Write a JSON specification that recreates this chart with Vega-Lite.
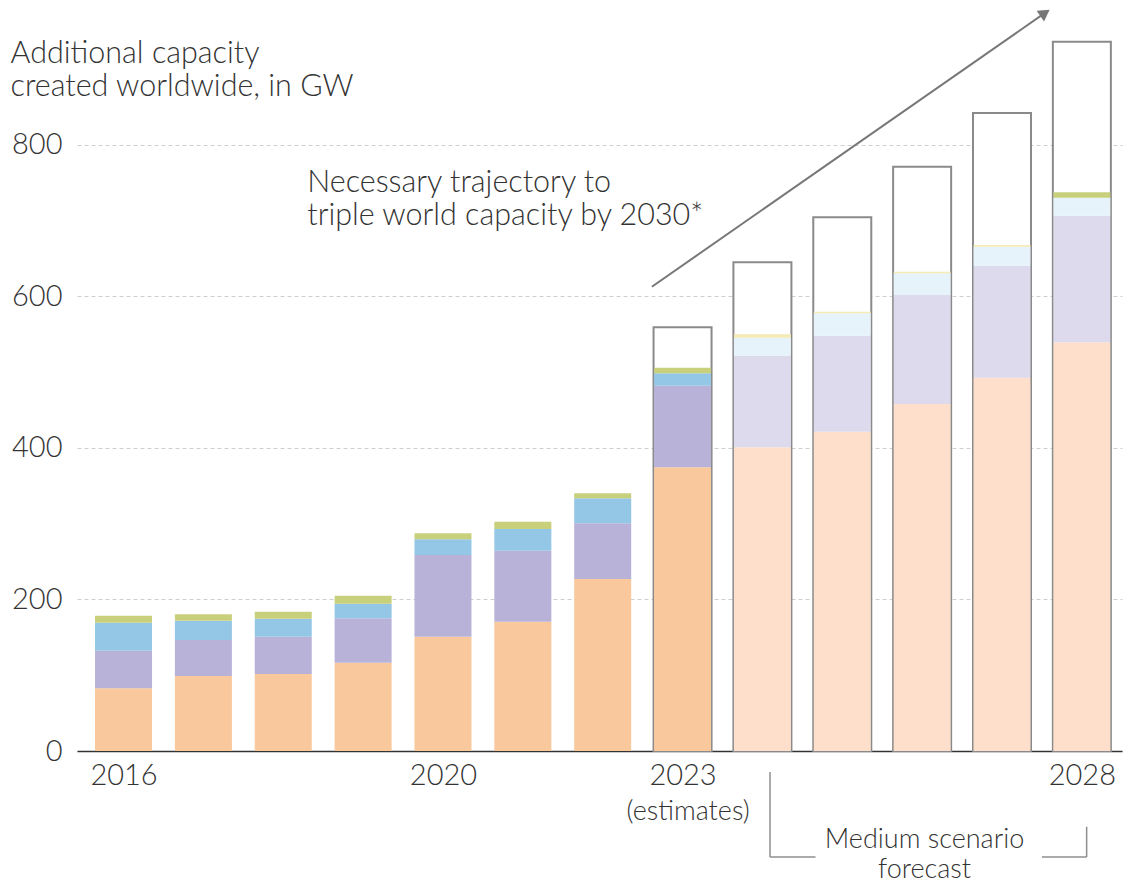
{
  "$schema": "https://vega.github.io/schema/vega-lite/v6.json",
  "width": 1045,
  "height": 742,
  "autosize": {"type": "none"},
  "padding": {"left": 77, "top": 9, "right": 2, "bottom": 133},
  "background": "white",
  "config": {
    "view": {"stroke": null},
    "font": "Lato",
    "axis": {"labelFont": "Lato", "labelFontWeight": 300, "labelFontSize": 29, "labelColor": "#333333", "titleFont": "Lato", "titleFontWeight": 300, "titleFontSize": 30.5, "titleColor": "#333333"}
  },
  "datasets": {
    "capacity": [
      {"year": 2016, "series": "Solar", "gw": 82.8},
      {"year": 2016, "series": "Wind", "gw": 49.6},
      {"year": 2016, "series": "Hydro", "gw": 37.0},
      {"year": 2016, "series": "Bioenergy", "gw": 9.2},
      {"year": 2017, "series": "Solar", "gw": 99.0},
      {"year": 2017, "series": "Wind", "gw": 47.5},
      {"year": 2017, "series": "Hydro", "gw": 25.5},
      {"year": 2017, "series": "Bioenergy", "gw": 8.5},
      {"year": 2018, "series": "Solar", "gw": 101.7},
      {"year": 2018, "series": "Wind", "gw": 49.2},
      {"year": 2018, "series": "Hydro", "gw": 23.8},
      {"year": 2018, "series": "Bioenergy", "gw": 9.2},
      {"year": 2019, "series": "Solar", "gw": 116.6},
      {"year": 2019, "series": "Wind", "gw": 58.6},
      {"year": 2019, "series": "Hydro", "gw": 19.3},
      {"year": 2019, "series": "Bioenergy", "gw": 10.5},
      {"year": 2020, "series": "Solar", "gw": 150.9},
      {"year": 2020, "series": "Wind", "gw": 107.8},
      {"year": 2020, "series": "Hydro", "gw": 20.7},
      {"year": 2020, "series": "Bioenergy", "gw": 7.9},
      {"year": 2021, "series": "Solar", "gw": 170.7},
      {"year": 2021, "series": "Wind", "gw": 93.7},
      {"year": 2021, "series": "Hydro", "gw": 28.7},
      {"year": 2021, "series": "Bioenergy", "gw": 9.6},
      {"year": 2022, "series": "Solar", "gw": 227.1},
      {"year": 2022, "series": "Wind", "gw": 73.5},
      {"year": 2022, "series": "Hydro", "gw": 33.0},
      {"year": 2022, "series": "Bioenergy", "gw": 6.6},
      {"year": 2023, "series": "Solar", "gw": 374.5},
      {"year": 2023, "series": "Wind", "gw": 107.8},
      {"year": 2023, "series": "Hydro", "gw": 16.3},
      {"year": 2023, "series": "Bioenergy", "gw": 7.4},
      {"year": 2024, "series": "Solar (forecast)", "gw": 400.9},
      {"year": 2024, "series": "Wind (forecast)", "gw": 121.0},
      {"year": 2024, "series": "Hydro (forecast)", "gw": 23.7},
      {"year": 2024, "series": "Bioenergy (forecast)", "gw": 4.4},
      {"year": 2025, "series": "Solar (forecast)", "gw": 421.5},
      {"year": 2025, "series": "Wind (forecast)", "gw": 126.8},
      {"year": 2025, "series": "Hydro (forecast)", "gw": 29.5},
      {"year": 2025, "series": "Bioenergy (forecast)", "gw": 2.0},
      {"year": 2026, "series": "Solar (forecast)", "gw": 458.0},
      {"year": 2026, "series": "Wind (forecast)", "gw": 144.0},
      {"year": 2026, "series": "Hydro (forecast)", "gw": 28.6},
      {"year": 2026, "series": "Bioenergy (forecast)", "gw": 2.2},
      {"year": 2027, "series": "Solar (forecast)", "gw": 492.8},
      {"year": 2027, "series": "Wind (forecast)", "gw": 147.9},
      {"year": 2027, "series": "Hydro (forecast)", "gw": 25.0},
      {"year": 2027, "series": "Bioenergy (forecast)", "gw": 2.3},
      {"year": 2028, "series": "Solar (forecast)", "gw": 539.5},
      {"year": 2028, "series": "Wind (forecast)", "gw": 167.2},
      {"year": 2028, "series": "Hydro (forecast)", "gw": 23.7},
      {"year": 2028, "series": "Bioenergy", "gw": 7.1}
    ],
    "seriesOrder": [
      {"series": "Solar", "rank": 1},
      {"series": "Solar (forecast)", "rank": 1},
      {"series": "Wind", "rank": 2},
      {"series": "Wind (forecast)", "rank": 2},
      {"series": "Hydro", "rank": 3},
      {"series": "Hydro (forecast)", "rank": 3},
      {"series": "Bioenergy", "rank": 4},
      {"series": "Bioenergy (forecast)", "rank": 4}
    ],
    "trajectory": [
      {"year": 2023, "gw": 559.3},
      {"year": 2024, "gw": 645.3},
      {"year": 2025, "gw": 704.5},
      {"year": 2026, "gw": 771.4},
      {"year": 2027, "gw": 842.2},
      {"year": 2028, "gw": 936.4}
    ],
    "arrow": [{"year": 2022.616, "gw": 612.9, "year2": 2027.538, "gw2": 974.3}],
    "arrowhead": [{"year": 2027.538, "gw": 974.3}],
    "bracket": [
      {"year": 2024.095, "year2": 2024.095, "gw": -27.7, "gw2": -140},
      {"year": 2024.095, "year2": 2024.665, "gw": -140, "gw2": -140},
      {"year": 2027.5, "year2": 2028.06, "gw": -140, "gw2": -140},
      {"year": 2028.06, "year2": 2028.06, "gw": -100, "gw2": -140}
    ],
    "noteLeft": [{"year": 2018.3, "gw": 738.4, "label": "Necessary trajectory to\ntriple world capacity by 2030*"}],
    "noteCenter": [
      {"year": 2026.03, "gw": -127.5, "label": "Medium scenario\nforecast"}
    ],
    "noteEstimate": [
      {"year": 2023.07, "gw": -90.5, "label": "(estimates)"}
    ]
  },
  "encoding": {
    "x": {
      "field": "year", "type": "quantitative",
      "scale": {"domain": [2015.48, 2028.44], "nice": false, "zero": false},
      "axis": {
        "values": [2016, 2020, 2023, 2028],
        "format": "d",
        "labelPadding": 10,
        "ticks": false, "tickSize": 0,
        "grid": false,
        "domainColor": "#333333", "domainWidth": 1.5,
        "title": null,
        "labelFlush": false,
        "labelOverlap": false
      }
    },
    "y": {
      "field": "gw", "type": "quantitative",
      "scale": {"domain": [0, 979.5], "nice": false},
      "axis": {
        "values": [0, 200, 400, 600, 800],
        "domain": false, "ticks": false, "tickSize": 0,
        "labelPadding": 15,
        "grid": true, "gridDash": [4, 3], "gridColor": "#cfcfcf", "gridWidth": 1,
        "title": ["Additional capacity", "created worldwide, in GW"],
        "titleAngle": 0, "titleAlign": "left", "titleBaseline": "alphabetic",
        "titleX": -67, "titleY": 53, "titleLineHeight": 33
      }
    }
  },
  "layer": [
    {
      "data": {"name": "trajectory"},
      "mark": {"type": "bar", "width": 58, "fill": "white", "stroke": "#8a8a8a", "strokeWidth": 2}
    },
    {
      "data": {"name": "capacity"},
      "transform": [
        {"lookup": "series", "from": {"data": {"name": "seriesOrder"}, "key": "series", "fields": ["rank"]}}
      ],
      "mark": {"type": "bar", "width": 57},
      "encoding": {
        "y": {
          "field": "gw", "type": "quantitative", "stack": "zero",
          "scale": {"domain": [0, 979.5], "nice": false},
          "axis": {
            "values": [0, 200, 400, 600, 800],
            "domain": false, "ticks": false, "tickSize": 0,
            "labelPadding": 15,
            "grid": true, "gridDash": [4, 3], "gridColor": "#cfcfcf", "gridWidth": 1,
            "title": ["Additional capacity", "created worldwide, in GW"],
            "titleAngle": 0, "titleAlign": "left", "titleBaseline": "alphabetic",
            "titleX": -67, "titleY": 53, "titleLineHeight": 33
          }
        },
        "order": {"field": "rank", "type": "quantitative", "sort": "ascending"},
        "color": {
          "field": "series", "type": "nominal", "legend": null,
          "scale": {
            "domain": ["Solar", "Solar (forecast)", "Wind", "Wind (forecast)", "Hydro", "Hydro (forecast)", "Bioenergy", "Bioenergy (forecast)"],
            "range": ["#F9C89C", "#FEDFCB", "#B9B2D8", "#DEDAEE", "#94C6E5", "#E7F3FB", "#C9D07C", "#F4EBB5"]
          }
        }
      }
    },
    {
      "data": {"name": "arrow"},
      "mark": {"type": "rule", "color": "#777777", "strokeWidth": 2},
      "encoding": {
        "x2": {"field": "year2"},
        "y2": {"field": "gw2"}
      }
    },
    {
      "data": {"name": "arrowhead"},
      "mark": {"type": "point", "shape": "triangle-up", "filled": true, "color": "#777777", "opacity": 1, "size": 170, "angle": 55.4}
    },
    {
      "data": {"name": "bracket"},
      "mark": {"type": "rule", "color": "#8f8f8f", "strokeWidth": 1.5},
      "encoding": {
        "x2": {"field": "year2"},
        "y2": {"field": "gw2"}
      }
    },
    {
      "data": {"name": "noteLeft"},
      "mark": {"type": "text", "align": "left", "baseline": "alphabetic", "font": "Lato", "fontWeight": 300, "fontSize": 30.5, "lineHeight": 33, "lineBreak": "\n", "color": "#333333"},
      "encoding": {
        "text": {"field": "label"}
      }
    },
    {
      "data": {"name": "noteCenter"},
      "mark": {"type": "text", "align": "center", "baseline": "alphabetic", "font": "Lato", "fontWeight": 300, "fontSize": 27, "lineHeight": 30, "lineBreak": "\n", "color": "#333333"},
      "encoding": {
        "text": {"field": "label"}
      }
    },
    {
      "data": {"name": "noteEstimate"},
      "mark": {"type": "text", "align": "center", "baseline": "alphabetic", "font": "Lato", "fontWeight": 300, "fontSize": 27, "color": "#333333"},
      "encoding": {
        "text": {"field": "label"}
      }
    }
  ]
}
